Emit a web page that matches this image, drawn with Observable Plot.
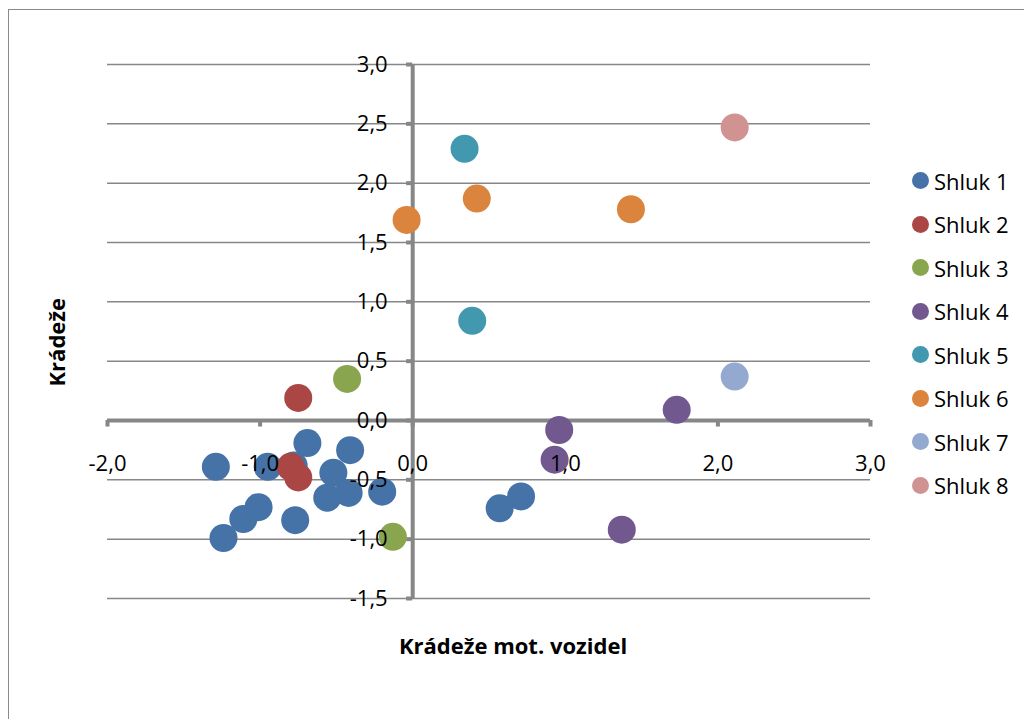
<!DOCTYPE html>
<html>
<head>
<meta charset="utf-8">
<script src="https://cdn.jsdelivr.net/npm/d3@7"></script>
<script src="https://cdn.jsdelivr.net/npm/@observablehq/plot@0.6"></script>
<style>
  html, body { margin: 0; padding: 0; background: #fff; }
  #wrap { position: relative; width: 1024px; height: 719px; overflow: hidden; font-family: "Open Sans", sans-serif; }
  #frame { position: absolute; left: 8px; top: 9px; width: 1040px; height: 740px; border: 1.5px solid #8a8a8a; box-sizing: border-box; }
  #chart { position: absolute; left: 0; top: 0; }
  #legend { position: absolute; left: 912px; top: 0; }
  .item { position: absolute; left: 0; display: flex; align-items: center; height: 30px; white-space: nowrap; font-size: 22px; color: #000; }
  .sw { width: 17px; height: 17px; border-radius: 50%; margin-right: 5px; }
</style>
</head>
<body>
<div id="wrap">
  <div id="frame"></div>
  <div id="chart"></div>
  <div id="legend"></div>
</div>
<script>
// Cluster membership on standardized values: x = vehicle thefts, y = thefts
const seriesNames = ["Shluk 1", "Shluk 2", "Shluk 3", "Shluk 4", "Shluk 5", "Shluk 6", "Shluk 7", "Shluk 8"];
const seriesColors = ["#4572A7", "#AA4643", "#89A54E", "#71588F", "#4198AF", "#DB843D", "#93A9CF", "#D19392"];

const shluk1X = [-1.29, -0.95, -0.69, -0.41, -0.78, -0.52, -0.56, -0.42, -0.20, -1.01, -1.11, -0.77, -1.24, 0.71, 0.57];
const shluk1Y = [-0.39, -0.39, -0.19, -0.25, -0.38, -0.44, -0.65, -0.61, -0.60, -0.73, -0.83, -0.84, -0.99, -0.64, -0.74];
const shluk2X = [-0.75, -0.80, -0.75];
const shluk2Y = [0.19, -0.39, -0.48];
const shluk3X = [-0.43, -0.13];
const shluk3Y = [0.35, -0.98];
const shluk4X = [0.96, 0.93, 1.37, 1.73];
const shluk4Y = [-0.08, -0.33, -0.92, 0.09];
const shluk5X = [0.34, 0.39];
const shluk5Y = [2.29, 0.84];
const shluk6X = [0.42, 1.43, -0.04];
const shluk6Y = [1.87, 1.78, 1.69];
const shluk7X = [2.11];
const shluk7Y = [0.37];
const shluk8X = [2.11];
const shluk8Y = [2.47];

const xTicks = [-2, -1, 0, 1, 2, 3];
const yTicks = [-1.5, -1, -0.5, 0, 0.5, 1, 1.5, 2, 2.5, 3];
const xTitle = "Krádeže mot. vozidel";
const yTitle = "Krádeže";

const allX = [shluk1X, shluk2X, shluk3X, shluk4X, shluk5X, shluk6X, shluk7X, shluk8X];
const allY = [shluk1Y, shluk2Y, shluk3Y, shluk4Y, shluk5Y, shluk6Y, shluk7Y, shluk8Y];
const points = [];
allX.forEach((xs, s) => xs.forEach((x, i) => points.push({series: seriesNames[s], x, y: allY[s][i]})));

const fmt = v => d3.format(".1f")(v).replace(".", ",").replace("\u2212", "-");
const axisGray = "#878787";

const plot = Plot.plot({
  width: 1024,
  height: 719,
  marginLeft: 107,
  marginRight: 154,
  marginTop: 64,
  marginBottom: 121,
  style: {fontFamily: "'Open Sans', sans-serif", fontSize: "22px", background: "transparent", overflow: "visible"},
  x: {domain: [-2, 3], axis: null},
  y: {domain: [-1.5, 3], axis: null},
  color: {domain: seriesNames, range: seriesColors},
  marks: [
    // horizontal gridlines
    Plot.ruleY(yTicks.filter(d => d !== 0), {stroke: axisGray, strokeWidth: 1.5}),
    // axes crossing at the origin
    Plot.ruleY([0], {stroke: axisGray, strokeWidth: 4}),
    Plot.ruleX([0], {y1: -1.5, y2: 3, stroke: axisGray, strokeWidth: 4}),
    // tick marks
    Plot.ruleX(xTicks, {y1: 0, y2: -0.055, stroke: axisGray, strokeWidth: 4}),
    Plot.ruleY(yTicks, {x1: 0, x2: -0.04, stroke: axisGray, strokeWidth: 4}),
    // cluster points
    Plot.dot(points, {x: "x", y: "y", fill: "series", r: 14, stroke: null}),
    // tick labels
    Plot.text(xTicks, {x: d => d, y: () => 0, text: fmt, dy: 43, fontSize: 22, fill: "#000"}),
    Plot.text(yTicks, {x: () => 0, y: d => d, text: fmt, dx: -25, textAnchor: "end", fontSize: 22, fill: "#000"}),
    // axis titles
    Plot.text([xTitle], {frameAnchor: "bottom", dy: 55, dx: 24, fontSize: 22, fontWeight: "bold", fill: "#000"}),
    Plot.text([yTitle], {frameAnchor: "left", dx: -50, dy: 55, rotate: -90, fontSize: 22, fontWeight: "bold", fill: "#000"})
  ]
});
document.getElementById("chart").appendChild(plot);

const legend = document.getElementById("legend");
seriesNames.forEach((name, i) => {
  const row = document.createElement("div");
  row.className = "item";
  row.style.top = (180.7 + i * 43.5 - 15) + "px";
  const sw = document.createElement("span");
  sw.className = "sw";
  sw.style.background = seriesColors[i];
  const label = document.createElement("span");
  label.textContent = name;
  row.appendChild(sw);
  row.appendChild(label);
  legend.appendChild(row);
});
</script>
</body>
</html>
